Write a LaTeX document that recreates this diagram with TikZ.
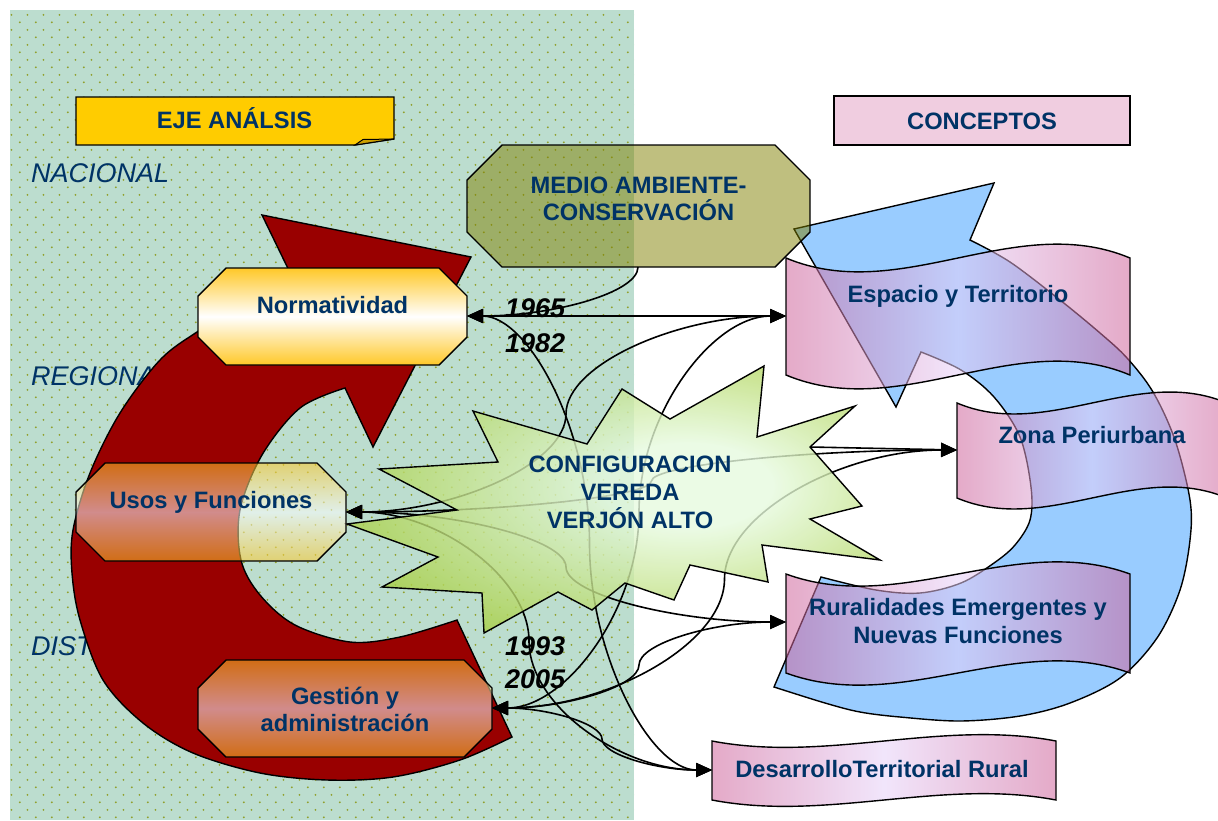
\documentclass[tikz,border=0pt]{standalone}
\usepackage{fontspec}
\setmainfont{Liberation Sans}
\usetikzlibrary{arrows.meta,patterns,calc}

\definecolor{navy}{RGB}{0,51,102}
\definecolor{panel}{RGB}{188,221,207}
\definecolor{dotc}{RGB}{145,160,45}
\definecolor{cred}{RGB}{153,0,0}
\definecolor{cblue}{RGB}{153,204,255}
\definecolor{olivebox}{RGB}{128,128,0}
\definecolor{hyellow}{RGB}{255,204,0}
\definecolor{hfold}{RGB}{204,160,0}
\definecolor{hpink}{RGB}{240,205,224}
\definecolor{octy}{RGB}{255,200,40}
\definecolor{banedge}{RGB}{206,100,155}
\definecolor{banmid}{RGB}{230,208,248}
\definecolor{starin}{RGB}{230,250,222}
\definecolor{starout}{RGB}{170,208,72}

\pgfdeclarepatternformonly{gdots}{\pgfpointorigin}{\pgfpoint{15.6pt}{15.4pt}}{\pgfpoint{15.6pt}{15.4pt}}{%
  \pgfpathcircle{\pgfpoint{3.9pt}{3.85pt}}{1.05pt}\pgfusepath{fill}%
  \pgfpathcircle{\pgfpoint{11.7pt}{11.55pt}}{1.05pt}\pgfusepath{fill}}

\pgfdeclareradialshading{starsh}{\pgfpoint{8bp}{3bp}}{color(0bp)=(starin); color(8bp)=(starin); color(30bp)=(starout); color(60bp)=(starout)}

\tikzset{
  lbl/.style={font=\bfseries\fontsize{23.7}{28}\selectfont, text=navy, inner sep=0pt, anchor=base},
  axl/.style={font=\itshape\fontsize{27}{30}\selectfont, text=navy, inner sep=0pt, anchor=base west},
  yr/.style={font=\bfseries\itshape\fontsize{27}{30}\selectfont, text=black, inner sep=0pt, anchor=base west},
  outl/.style={draw=black, line width=1.4pt, line join=miter},
  conn/.style={draw=black, line width=1.6pt},
  ban/.style={outl, fill opacity=0.55, left color=banedge, right color=banedge, middle color=banmid},
  octbox/.style={outl, top color=octy, bottom color=octy, middle color=white},
  cc/.style={to path={
    let \p1=(\tikztostart), \p2=(\tikztotarget), \n1={\x1+#1*(\x2-\x1)} in
    .. controls ({(\x1+\n1*1pt)/2},\y1) and ({\n1*1pt},{\y1+(\y2-\y1)/4}) .. ({\n1*1pt},{(\y1+\y2)/2})
    .. controls ({\n1*1pt},{\y1+3*(\y2-\y1)/4}) and ({(\x2+\n1*1pt)/2},\y2) .. (\tikztotarget)}},
  cc/.default=0.5,
  >={Triangle[length=16pt,width=14pt]}
}

\begin{document}
\begin{tikzpicture}[x=1pt,y=-1pt]
\useasboundingbox (0,0) rectangle (1218,820);

% dotted green panel
\fill[panel] (10,10) rectangle (634,820);
\fill[pattern=gdots, pattern color=dotc] (10,10) rectangle (634,820);

% axis labels
\node[axl] (nac) at (31,182) {NACIONAL};
\node[axl] (reg) at (31,385) {REGIONAL};
\node[axl] (dis) at (31,655) {DISTRITAL};

% red circular arrow
\path[outl, fill=cred] plot[smooth, tension=0.55] coordinates {(512,737) (460,760) (393,777) (327,780) (260,773) (193,753) (143,723) (103,680) (80,620) (72,573) (73,530) (90,473) (120,413) (160,360) (197,332) (245,303) (297,287)}
  -- (262,215) -- (471,257) -- (373,447) -- (345,388)
  -- plot[smooth, tension=0.55] coordinates {(345,388) (300,408) (262,455) (240,510) (241,560) (260,595) (295,625) (350,642) (400,637) (457,620)} -- cycle;

% blue circular arrow
\path[outl, fill=cblue] plot[smooth, tension=0.55] coordinates {(774,687) (825,703) (860,712) (900,717) (960,721) (1020,716) (1070,703) (1120,678) (1157,638) (1180,590) (1190,540) (1190,500) (1175,440) (1153,392) (1127,358) (1100,333) (1060,300) (1010,262) (970,240)}
  -- (994,183) -- (794,229) -- (896,407) -- (921,352)
  -- plot[smooth, tension=0.55] coordinates {(921,352) (961,370) (994,397) (1020,437) (1031,487) (1030,520) (1015,545) (994,563) (961,583) (920,593) (876,590) (821,577)} -- cycle;

% banners
\path[ban] (786,258) .. controls (900.7,306) and (1015.3,210) .. (1130,258) -- (1130,375) .. controls (1015.3,327) and (900.7,423) .. (786,375) -- cycle;
\path[ban] (957,403) .. controls (1047,441) and (1137,365) .. (1227,403) -- (1227,498) .. controls (1137,460) and (1047,536) .. (957,498) -- cycle;
\path[ban] (786,574) .. controls (900.7,616) and (1015.3,532) .. (1130,574) -- (1130,673) .. controls (1015.3,631) and (900.7,715) .. (786,673) -- cycle;
\path[ban] (712,741) .. controls (826.7,763) and (941.3,719) .. (1056,741) -- (1056,800) .. controls (941.3,778) and (826.7,822) .. (712,800) -- cycle;

% connector end points
\coordinate (normR) at (467,316);
\coordinate (usosR) at (346,512);
\coordinate (gestR) at (492,708);
\coordinate (medB) at (638,267);
\coordinate (espL) at (786,316);
\coordinate (zonaL) at (957,450);
\coordinate (ruralL) at (786,622);
\coordinate (desL) at (712,770);
\coordinate (starZ) at (810,447);

% connectors
\draw[conn,<->] (normR) to[cc] (espL);
\draw[conn,<->] (normR) to[cc] (desL);
\draw[conn,->] (medB) .. controls +(0,26) and +(85,0) .. (normR);
\draw[conn,<->] (usosR) to[cc] (espL);
\draw[conn,<->] (usosR) to[cc] (zonaL);
\draw[conn,<->] (usosR) to[cc] (ruralL);
\draw[conn,<->] (usosR) to[cc] (desL);
\draw[conn,<->] (gestR) to[cc] (espL);
\draw[conn,<->] (gestR) to[cc] (zonaL);
\draw[conn,<->] (gestR) to[cc] (ruralL);
\draw[conn,<->] (gestR) to[cc] (desL);
\draw[conn,->] (starZ) -- (zonaL);

% explosion star
\path[outl, shade, shading=starsh, fill opacity=0.8] (347,524) -- (457,510) -- (379,469) -- (498,462) -- (473,411) -- (587,444) -- (622,389) -- (670,419) -- (764,366) -- (757,437) -- (855,406) -- (810,447) -- (862,506) -- (810,519) -- (880,560) -- (762,545) -- (768,582) -- (690,565) -- (674,600) -- (625,583) -- (592,610) -- (558,592) -- (484,633) -- (482,593) -- (382,587) -- (438,557) -- cycle;

% medio ambiente box
\path[outl, fill=olivebox, fill opacity=0.5] (502,145) -- (775,145) -- (810,180) -- (810,232) -- (775,267) -- (502,267) -- (467,232) -- (467,180) -- cycle;

% octagon boxes
\path[octbox] (226,268) -- (439,268) -- (467,296) -- (467,337) -- (439,365) -- (226,365) -- (198,337) -- (198,296) -- cycle;
\path[octbox, fill opacity=0.55] (105,463) -- (317,463) -- (346,492) -- (346,532) -- (317,561) -- (105,561) -- (76,532) -- (76,492) -- cycle;
\path[octbox, fill opacity=0.55] (226,660) -- (464,660) -- (492,688) -- (492,729) -- (464,757) -- (226,757) -- (198,729) -- (198,688) -- cycle;

% headers
\path[outl, fill=hyellow] (76,97) -- (394,97) -- (394,139) -- (355,145) -- (76,145) -- cycle;
\path[outl, fill=hfold, line width=1pt] (355,145) -- (363,139.5) -- (394,139) -- cycle;
\path[outl, fill=hpink] (834,96) rectangle (1130,145);

% texts
\node[lbl] (eje) at (234.5,128) {EJE ANÁLSIS};
\node[lbl] (conc) at (982,129) {CONCEPTOS};
\node[lbl] (med1) at (638.5,193) {MEDIO AMBIENTE-};
\node[lbl] (med2) at (638.5,220) {CONSERVACIÓN};
\node[lbl] (norm) at (332.5,313) {Normatividad};
\node[lbl] (usos) at (211,508) {Usos y Funciones};
\node[lbl] (gest1) at (345,704) {Gestión y};
\node[lbl] (gest2) at (345,731) {administración};
\node[lbl] (conf1) at (630,472) {CONFIGURACION};
\node[lbl] (conf2) at (630,500) {VEREDA};
\node[lbl] (conf3) at (630,528) {VERJÓN ALTO};
\node[lbl] (esp) at (958,302) {Espacio y Territorio};
\node[lbl] (zona) at (1092,443) {Zona Periurbana};
\node[lbl] (rur1) at (958,615) {Ruralidades Emergentes y};
\node[lbl] (rur2) at (958,643) {Nuevas Funciones};
\node[lbl] (des) at (882,777) {DesarrolloTerritorial Rural};

\node[yr] (y1) at (505,317) {1965};
\node[yr] (y2) at (505,352) {1982};
\node[yr] (y3) at (505,655) {1993};
\node[yr] (y4) at (505,688) {2005};
\end{tikzpicture}
\end{document}
